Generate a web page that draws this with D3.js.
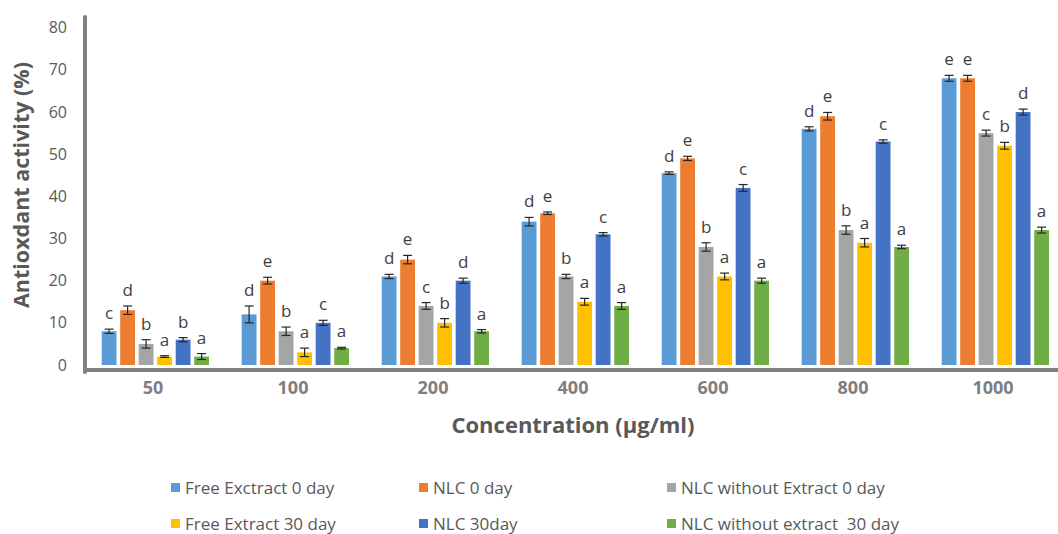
<!DOCTYPE html>
<html>
<head>
<meta charset="utf-8">
<title>antioxidant bars</title>
<script src="https://cdn.jsdelivr.net/npm/d3@7/dist/d3.min.js"></script>
<style>
    html, body { margin: 0; padding: 0; background: #fff; }
    svg { display: block; font-family: "Open Sans", sans-serif; }
    text { white-space: pre; }
</style>
</head>
<body>
<svg width="1058" height="534"></svg>
<script>
    // data
    var concentrations = ["50", "100", "200", "400", "600", "800", "1000"];
    var seriesNames = ["Free Exctract 0 day", "NLC 0 day", "NLC without Extract 0 day",
        "Free Extract 30 day", "NLC 30day", "NLC without extract  30 day"];
    var seriesColors = ["#5B9BD5", "#ED7D31", "#A5A5A5", "#FFC000", "#4472C4", "#70AD47"];

    var freeExtract0 = [8, 12, 21, 34, 45.5, 56, 68];
    var nlc0 = [13, 20, 25, 36, 49, 59, 68];
    var nlcNoExtract0 = [5, 8, 14, 21, 28, 32, 55];
    var freeExtract30 = [2, 3, 10, 15, 21, 29, 52];
    var nlc30 = [6, 10, 20, 31, 42, 53, 60];
    var nlcNoExtract30 = [2, 4, 8, 14, 20, 28, 32];

    var errFreeExtract0 = [0.5, 2, 0.5, 1, 0.3, 0.5, 0.7];
    var errNlc0 = [1, 0.8, 1, 0.3, 0.5, 0.9, 0.7];
    var errNlcNoExtract0 = [1, 1, 0.8, 0.5, 1, 1, 0.7];
    var errFreeExtract30 = [0.2, 1, 1, 0.8, 0.8, 1, 0.8];
    var errNlc30 = [0.5, 0.6, 0.6, 0.4, 0.8, 0.4, 0.7];
    var errNlcNoExtract30 = [0.7, 0.2, 0.4, 0.8, 0.6, 0.4, 0.7];

    var letFreeExtract0 = ["c", "d", "d", "d", "d", "d", "e"];
    var letNlc0 = ["d", "e", "e", "e", "e", "e", "e"];
    var letNlcNoExtract0 = ["b", "b", "c", "b", "b", "b", "c"];
    var letFreeExtract30 = ["a", "a", "b", "a", "a", "a", "b"];
    var letNlc30 = ["b", "c", "d", "c", "c", "c", "d"];
    var letNlcNoExtract30 = ["a", "a", "a", "a", "a", "a", "a"];

    var yTicks = [0, 10, 20, 30, 40, 50, 60, 70, 80];

    var values = [freeExtract0, nlc0, nlcNoExtract0, freeExtract30, nlc30, nlcNoExtract30];
    var errors = [errFreeExtract0, errNlc0, errNlcNoExtract0, errFreeExtract30, errNlc30, errNlcNoExtract30];
    var letters = [letFreeExtract0, letNlc0, letNlcNoExtract0, letFreeExtract30, letNlc30, letNlcNoExtract30];

    var svg = d3.select("svg");

    var x0 = d3.scaleBand().domain(concentrations).range([85, 1065]).paddingInner(0).paddingOuter(0);
    var x1 = d3.scaleBand().domain(d3.range(seriesNames.length)).range([16.7, 124]).paddingInner(0.2).paddingOuter(0);
    var y = d3.scaleLinear().domain([0, 80]).range([365, 27.7]);

    // flat list of bars
    var bars = [];
    concentrations.forEach(function (c, ci) {
        seriesNames.forEach(function (s, si) {
            bars.push({ cat: c, s: si, v: values[si][ci], e: errors[si][ci], l: letters[si][ci] });
        });
    });

    // y tick labels
    var yAxis = d3.axisLeft(y).tickValues(yTicks).tickSize(0).tickPadding(0);
    var gy = svg.append("g").attr("transform", "translate(67,0)").call(yAxis);
    gy.select(".domain").remove();
    gy.selectAll("text").attr("font-size", 16).attr("fill", "#595959").attr("font-family", "Open Sans");

    // x tick labels
    var xAxis = d3.axisBottom(x0).tickSize(0).tickPadding(0);
    var gx = svg.append("g").attr("transform", "translate(-2,381)").call(xAxis);
    gx.select(".domain").remove();
    gx.selectAll("text").attr("font-size", 18).attr("font-weight", "bold").attr("fill", "#7f7f7f").attr("font-family", "Open Sans");

    var g = svg.append("g");

    g.selectAll("rect.bar")
        .data(bars)
        .enter()
        .append("rect")
        .attr("class", "bar")
        .attr("x", function (d) { return x0(d.cat) + x1(d.s); })
        .attr("width", x1.bandwidth())
        .attr("y", function (d) { return y(d.v); })
        .attr("height", function (d) { return y(0) - y(d.v); })
        .attr("fill", function (d) { return seriesColors[d.s]; });

    // error bars
    var eb = g.selectAll("g.err").data(bars).enter().append("g").attr("class", "err")
        .attr("stroke", "#262626").attr("stroke-width", 1.2);
    eb.append("line")
        .attr("x1", function (d) { return x0(d.cat) + x1(d.s) + x1.bandwidth() / 2; })
        .attr("x2", function (d) { return x0(d.cat) + x1(d.s) + x1.bandwidth() / 2; })
        .attr("y1", function (d) { return y(d.v + d.e); })
        .attr("y2", function (d) { return y(d.v - d.e); });
    [1, -1].forEach(function (sign) {
        eb.append("line")
            .attr("x1", function (d) { return x0(d.cat) + x1(d.s) + x1.bandwidth() / 2 - 4.5; })
            .attr("x2", function (d) { return x0(d.cat) + x1(d.s) + x1.bandwidth() / 2 + 4.5; })
            .attr("y1", function (d) { return y(d.v + sign * d.e); })
            .attr("y2", function (d) { return y(d.v + sign * d.e); });
    });

    // significance letters
    g.selectAll("text.sig")
        .data(bars)
        .enter()
        .append("text")
        .attr("class", "sig")
        .attr("x", function (d) { return x0(d.cat) + x1(d.s) + x1.bandwidth() / 2; })
        .attr("y", function (d) { return y(d.v + d.e) - 10; })
        .attr("text-anchor", "middle")
        .attr("font-size", 17)
        .attr("fill", "#404040")
        .text(function (d) { return d.l; });

    // thick axis lines
    svg.append("line").attr("x1", 85).attr("x2", 85).attr("y1", 17).attr("y2", 372)
        .attr("stroke", "#808080").attr("stroke-width", 4).attr("stroke-linecap", "round");
    svg.append("line").attr("x1", 83).attr("x2", 1058).attr("y1", 370).attr("y2", 370)
        .attr("stroke", "#808080").attr("stroke-width", 4);

    // axis titles
    svg.append("text")
        .attr("transform", "translate(29,185) rotate(-90)")
        .attr("text-anchor", "middle")
        .attr("font-size", 21.5).attr("font-weight", "bold").attr("fill", "#595959")
        .text("Antioxdant activity (%)");
    svg.append("text")
        .attr("x", 573).attr("y", 433)
        .attr("text-anchor", "middle")
        .attr("font-size", 22).attr("font-weight", "bold").attr("fill", "#595959")
        .text("Concentration (µg/ml)");

    // legend, two rows of three
    var legend = svg.append("g").selectAll("g")
        .data(seriesNames)
        .enter()
        .append("g")
        .attr("transform", function (d, i) {
            return "translate(" + (171 + (i % 3) * 248) + "," + (i < 3 ? 488 : 524) + ")";
        });
    legend.append("rect")
        .attr("x", 0).attr("y", -5).attr("width", 9).attr("height", 9)
        .attr("fill", function (d, i) { return seriesColors[i]; });
    legend.append("text")
        .attr("x", 14).attr("y", 6)
        .attr("font-size", 17).attr("fill", "#595959")
        .text(function (d) { return d; });
</script>
</body>
</html>
